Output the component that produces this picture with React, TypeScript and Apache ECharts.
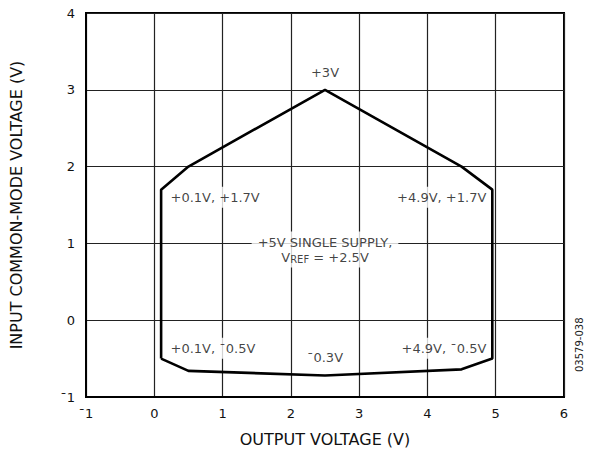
import React, { useEffect, useRef } from "react";
import * as echarts from "echarts";

const xTicks = [-1, 0, 1, 2, 3, 4, 5, 6];
const yTicks = [-1, 0, 1, 2, 3, 4];

// boundary of the operating region (output V, input common-mode V)
const boundaryX = [0.1, 0.1, 0.5, 2.5, 4.5, 4.95, 4.95, 4.5, 2.5, 0.5, 0.1];
const boundaryY = [-0.5, 1.7, 2.0, 3.0, 2.0, 1.7, -0.5, -0.64, -0.72, -0.66, -0.5];

// annotations
const noteText = [
  "+3V",
  "+0.1V, +1.7V",
  "+4.9V, +1.7V",
  "{a|+5V SINGLE SUPPLY,}\n{a|V}{s|REF}{a| = +2.5V}",
  "+0.1V, ¯0.5V",
  "¯0.3V",
  "+4.9V, ¯0.5V",
];
const noteX = [2.5, 0.15, 4.95, 2.5, 0.15, 2.5, 4.95];
const noteY = [3.22, 1.6, 1.6, 0.92, -0.365, -0.49, -0.365];
const noteAlign = ["center", "left", "right", "center", "left", "center", "right"];

const FONT = "'DejaVu Sans', sans-serif";

const fmt = (v: number) => (v < 0 ? "¯" + Math.abs(v) : String(v));

export default function App() {
  const ref = useRef<HTMLDivElement>(null);
  useEffect(() => {
    if (!ref.current) return;
    const chart = echarts.init(ref.current, null, { renderer: "svg" });
    const option: any = {
      animation: false,
      backgroundColor: "#fff",
      textStyle: { fontFamily: FONT },
      grid: {
        left: 84,
        top: 13,
        right: 28,
        bottom: 57,
        containLabel: false,
        show: true,
        borderColor: "#000",
        borderWidth: 2,
      },
      xAxis: {
        type: "value",
        min: xTicks[0],
        max: xTicks[xTicks.length - 1],
        interval: 1,
        name: "OUTPUT VOLTAGE (V)",
        nameLocation: "middle",
        nameGap: 34,
        nameTextStyle: { fontSize: 16, color: "#111", fontFamily: FONT },
        axisLine: { show: true, onZero: false, lineStyle: { color: "#000", width: 2 } },
        axisTick: { show: false },
        axisLabel: { fontSize: 13, color: "#111", margin: 10, formatter: fmt, fontFamily: FONT },
        splitLine: { show: true, lineStyle: { color: "#222", width: 1.2 } },
      },
      yAxis: {
        type: "value",
        min: yTicks[0],
        max: yTicks[yTicks.length - 1],
        interval: 1,
        name: "INPUT COMMON-MODE VOLTAGE (V)",
        nameLocation: "middle",
        nameGap: 62,
        nameTextStyle: { fontSize: 16, color: "#111", fontFamily: FONT },
        axisLine: { show: true, onZero: false, lineStyle: { color: "#000", width: 2 } },
        axisTick: { show: false },
        axisLabel: { fontSize: 13, color: "#111", margin: 11, formatter: fmt, fontFamily: FONT },
        splitLine: { show: true, lineStyle: { color: "#222", width: 1.2 } },
      },
      series: [
        {
          type: "scatter",
          symbolSize: 0,
          z: 3,
          silent: true,
          data: noteText.map((t, i) => ({
            value: [noteX[i], noteY[i]],
            label: {
              show: true,
              position: "inside",
              align: noteAlign[i],
              verticalAlign: "middle",
              formatter: t,
              color: "#111",
              fontSize: 13,
              fontFamily: FONT,
              backgroundColor: "#fff",
              padding: [3, 6],
              lineHeight: 15,
              rich: {
                a: { fontSize: 13, color: "#111", fontFamily: FONT, lineHeight: 15 },
                s: { fontSize: 10, color: "#111", fontFamily: FONT, verticalAlign: "bottom", lineHeight: 11, padding: [7, 0, 0, 0] },
              },
            },
          })),
        },
        {
          type: "line",
          z: 4,
          symbol: "none",
          silent: true,
          lineStyle: { color: "#000", width: 2.6 },
          data: boundaryX.map((x, i) => [x, boundaryY[i]]),
        },
      ],
      graphic: [
        {
          type: "text",
          x: 574,
          y: 372,
          rotation: Math.PI / 2,
          style: { text: "03579-038", fontSize: 10, fill: "#222", fontFamily: FONT, verticalAlign: "top" },
        },
      ],
    };
    chart.setOption(option);
    return () => chart.dispose();
  }, []);
  return (
    <div
      ref={ref}
      style={{ position: "fixed", left: 0, top: 0, width: 592, height: 454 }}
    />
  );
}
